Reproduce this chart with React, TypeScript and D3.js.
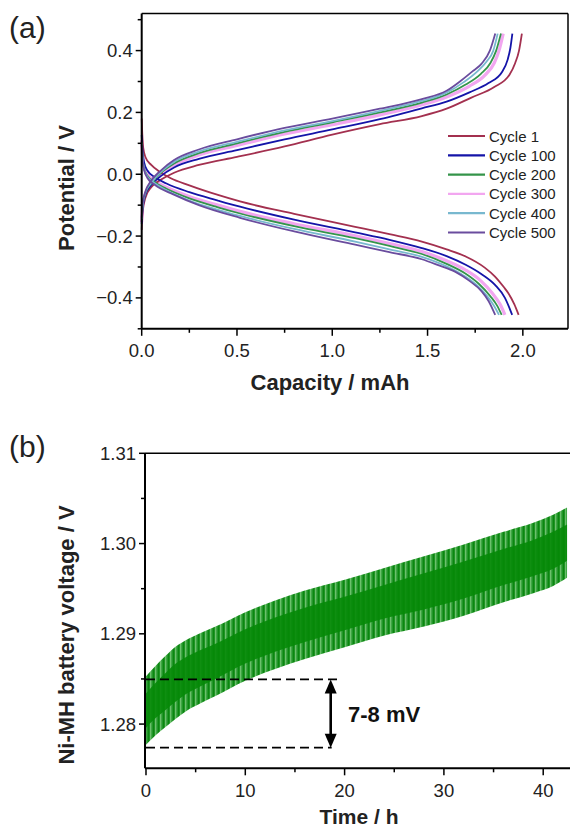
import React from "react";
import * as d3 from "d3";

const width = 570;
const height = 832;
const font = "'Liberation Sans', Arial, sans-serif";

// ---- panel (a) data: [capacity mAh, potential V]
const cycleNames = ["Cycle 1", "Cycle 100", "Cycle 200", "Cycle 300", "Cycle 400", "Cycle 500"];

const charge1 = [[0,-0.18],[0.005,-0.12],[0.02,-0.075],[0.05,-0.042],[0.1,-0.018],[0.17,0.005],[0.3,0.03],[0.5,0.056],[0.75,0.09],[1.0,0.128],[1.25,0.162],[1.47,0.188],[1.6,0.212],[1.73,0.248],[1.85,0.282],[1.93,0.322],[1.96,0.36],[1.98,0.40],[1.995,0.455]];
const charge100 = [[0,-0.16],[0.005,-0.11],[0.02,-0.065],[0.05,-0.035],[0.1,-0.006],[0.17,0.022],[0.3,0.05],[0.5,0.078],[0.75,0.113],[1.0,0.145],[1.25,0.178],[1.47,0.213],[1.6,0.235],[1.72,0.265],[1.82,0.295],[1.89,0.33],[1.92,0.37],[1.935,0.41],[1.945,0.455]];
const charge200 = [[0,-0.15],[0.005,-0.1],[0.02,-0.06],[0.05,-0.03],[0.1,0.004],[0.17,0.035],[0.3,0.068],[0.5,0.1],[0.75,0.137],[1.0,0.168],[1.25,0.2],[1.47,0.232],[1.6,0.258],[1.7,0.29],[1.78,0.325],[1.83,0.36],[1.86,0.40],[1.885,0.455]];
const charge300 = [[0,-0.155],[0.005,-0.105],[0.02,-0.062],[0.05,-0.032],[0.1,0.0],[0.17,0.03],[0.3,0.062],[0.5,0.093],[0.75,0.13],[1.0,0.16],[1.25,0.192],[1.47,0.225],[1.6,0.25],[1.72,0.285],[1.8,0.32],[1.85,0.36],[1.875,0.40],[1.897,0.455]];
const charge400 = [[0,-0.145],[0.005,-0.1],[0.02,-0.058],[0.05,-0.028],[0.1,0.007],[0.17,0.04],[0.3,0.073],[0.5,0.105],[0.75,0.142],[1.0,0.172],[1.25,0.205],[1.47,0.237],[1.6,0.264],[1.69,0.298],[1.76,0.332],[1.81,0.365],[1.845,0.40],[1.868,0.455]];
const charge500 = [[0,-0.14],[0.005,-0.095],[0.02,-0.055],[0.045,-0.025],[0.1,0.012],[0.17,0.046],[0.3,0.08],[0.5,0.113],[0.75,0.15],[1.0,0.18],[1.25,0.212],[1.47,0.243],[1.6,0.27],[1.68,0.305],[1.74,0.335],[1.784,0.358],[1.827,0.40],[1.855,0.455]];

const discharge1 = [[0,0.18],[0.003,0.13],[0.008,0.085],[0.02,0.055],[0.05,0.03],[0.09,0.01],[0.15,-0.012],[0.25,-0.036],[0.4,-0.067],[0.516,-0.088],[0.8,-0.128],[1.12,-0.17],[1.3,-0.194],[1.47,-0.218],[1.6,-0.243],[1.7,-0.266],[1.8,-0.302],[1.854,-0.331],[1.9,-0.365],[1.924,-0.385],[1.955,-0.42],[1.978,-0.455]];
const discharge100 = [[0,0.127],[0.004,0.08],[0.012,0.04],[0.03,0.012],[0.07,-0.01],[0.13,-0.03],[0.25,-0.058],[0.4,-0.085],[0.516,-0.105],[0.8,-0.147],[1.12,-0.188],[1.3,-0.212],[1.47,-0.239],[1.6,-0.265],[1.7,-0.293],[1.78,-0.322],[1.854,-0.358],[1.906,-0.40],[1.944,-0.455]];
const discharge200 = [[0,0.105],[0.004,0.06],[0.012,0.02],[0.03,-0.005],[0.07,-0.027],[0.13,-0.047],[0.25,-0.078],[0.4,-0.107],[0.516,-0.127],[0.8,-0.168],[1.12,-0.207],[1.3,-0.232],[1.47,-0.258],[1.6,-0.29],[1.7,-0.322],[1.77,-0.355],[1.83,-0.395],[1.865,-0.425],[1.889,-0.455]];
const discharge300 = [[0,0.11],[0.004,0.065],[0.012,0.025],[0.03,0.0],[0.07,-0.022],[0.13,-0.042],[0.25,-0.072],[0.4,-0.1],[0.516,-0.12],[0.8,-0.16],[1.12,-0.199],[1.3,-0.224],[1.47,-0.25],[1.6,-0.28],[1.7,-0.31],[1.78,-0.345],[1.84,-0.385],[1.88,-0.42],[1.906,-0.455]];
const discharge400 = [[0,0.1],[0.004,0.058],[0.012,0.018],[0.03,-0.008],[0.07,-0.03],[0.13,-0.052],[0.25,-0.085],[0.4,-0.115],[0.516,-0.135],[0.8,-0.177],[1.12,-0.218],[1.3,-0.243],[1.47,-0.267],[1.6,-0.298],[1.69,-0.328],[1.76,-0.36],[1.82,-0.4],[1.85,-0.427],[1.875,-0.455]];
const discharge500 = [[0,0.095],[0.004,0.055],[0.012,0.015],[0.03,-0.012],[0.07,-0.035],[0.166,-0.065],[0.3,-0.1],[0.516,-0.141],[0.8,-0.185],[1.12,-0.228],[1.3,-0.252],[1.47,-0.275],[1.56,-0.295],[1.644,-0.315],[1.72,-0.345],[1.784,-0.379],[1.82,-0.41],[1.855,-0.455]];

const capTicks = [0, 0.5, 1.0, 1.5, 2.0];
const capMinor = [0.25, 0.75, 1.25, 1.75];
const potTicks = [-0.4, -0.2, 0.0, 0.2, 0.4];
const potMinor = [-0.5, -0.3, -0.1, 0.1, 0.3, 0.5];

// ---- panel (b) data: envelope of the cycling voltage
const timeH = [0, 1, 2, 3, 4, 5.5, 7, 10, 13, 16, 20, 24, 28, 32, 36, 39, 41, 42.4];
const voltUpper = [1.2853, 1.2865, 1.2876, 1.2886, 1.2893, 1.2901, 1.2908, 1.2924, 1.2937, 1.2948, 1.296, 1.2973, 1.2986, 1.2999, 1.3013, 1.3023, 1.3032, 1.304];
const voltLower = [1.2777, 1.2788, 1.2797, 1.2806, 1.2814, 1.2823, 1.2831, 1.2848, 1.2861, 1.2872, 1.2885, 1.2898, 1.2908, 1.292, 1.2935, 1.2945, 1.2953, 1.2962];
const timeTicks = [0, 10, 20, 30, 40];
const timeMinor = [5, 15, 25, 35];
const voltTicks = [1.28, 1.29, 1.3, 1.31];
const voltMinor = [1.285, 1.295, 1.305];
const markHigh = 1.28495;
const markLow = 1.27738;

const colors = ["#a3304f", "#1414a8", "#34944a", "#f2a6f0", "#78b8cf", "#6a4c9e"];
const drawOrder = [3, 0, 1, 2, 4, 5];

const A = { left: 141.7, right: 568, top: 13.5, bottom: 328.8 };
const B = { left: 145, right: 573, top: 453.3, bottom: 768.3 };

const BottomAxis = ({ scale, y, major, minor, fmt, labelY }) => (
  <g>
    {minor.map((t) => (
      <line key={"m" + t} x1={scale(t)} x2={scale(t)} y1={y} y2={y + 4} stroke="#000" strokeWidth={1.5} />
    ))}
    {major.map((t) => (
      <g key={t}>
        <line x1={scale(t)} x2={scale(t)} y1={y} y2={y + 7} stroke="#000" strokeWidth={1.5} />
        <text x={scale(t)} y={labelY} textAnchor="middle" fontSize={18.5} fill="#222" fontFamily={font}>
          {fmt(t)}
        </text>
      </g>
    ))}
  </g>
);

const LeftAxis = ({ scale, x, major, minor, fmt }) => (
  <g>
    {minor.map((t) => (
      <line key={"m" + t} x1={x - 4} x2={x} y1={scale(t)} y2={scale(t)} stroke="#000" strokeWidth={1.5} />
    ))}
    {major.map((t) => (
      <g key={t}>
        <line x1={x - 6} x2={x} y1={scale(t)} y2={scale(t)} stroke="#000" strokeWidth={1.5} />
        <text x={x - 9} y={scale(t) + 6.5} textAnchor="end" fontSize={18.5} fill="#222" fontFamily={font}>
          {fmt(t)}
        </text>
      </g>
    ))}
  </g>
);

export default function App() {
  const xA = d3.scaleLinear().domain([0, 2.237]).range([A.left, A.right]);
  const yA = d3.scaleLinear().domain([-0.5, 0.52]).range([A.bottom, A.top]);
  const xB = d3.scaleLinear().domain([-0.1, 43]).range([B.left, B.right]);
  const yB = d3.scaleLinear().domain([1.2751, 1.31]).range([B.bottom, B.top]);

  const charges = [charge1, charge100, charge200, charge300, charge400, charge500];
  const discharges = [discharge1, discharge100, discharge200, discharge300, discharge400, discharge500];
  const line = d3.line().x((d) => xA(d[0])).y((d) => yA(d[1])).curve(d3.curveMonotoneX);

  const band = timeH.map((t, i) => ({ t, hi: voltUpper[i], lo: voltLower[i] }));
  const outer = d3.area().x((d) => xB(d.t)).y0((d) => yB(d.lo)).y1((d) => yB(d.hi)).curve(d3.curveMonotoneX);
  const inner = d3.area().x((d) => xB(d.t)).y0((d) => yB(d.lo + 0.0019)).y1((d) => yB(d.hi - 0.0019)).curve(d3.curveMonotoneX);

  const fmt1 = d3.format(".1f");
  const fmt2 = d3.format(".2f");
  const arrowX = xB(18.6);

  return (
    <svg width={width} height={height} style={{ position: "absolute", left: 0, top: 0, background: "#fff" }}>
      <defs>
        <pattern id="teeth" width={5} height={10} patternUnits="userSpaceOnUse">
          <rect width={5} height={10} fill="#23962a" />
          <rect x={0} width={1.4} height={10} fill="#6cc06c" />
          <rect x={3} width={1.2} height={10} fill="#0b870f" />
        </pattern>
        <clipPath id="clipB">
          <rect x={B.left} y={B.top} width={B.right - B.left} height={B.bottom - B.top} />
        </clipPath>
      </defs>

      {/* ---------- panel (a) ---------- */}
      <text x={9} y={38} fontSize={30} fontFamily={font} fill="#222">(a)</text>
      {drawOrder.map((i) => (
        <g key={cycleNames[i]}>
          <path d={line(charges[i])} fill="none" stroke={colors[i]} strokeWidth={i === 3 ? 3.2 : 1.8} />
          <path d={line(discharges[i])} fill="none" stroke={colors[i]} strokeWidth={i === 3 ? 3.2 : 1.8} />
        </g>
      ))}
      <line x1={A.left} x2={A.right} y1={A.top} y2={A.top} stroke="#000" strokeWidth={1.5} />
      <line x1={A.right} x2={A.right} y1={A.top} y2={A.bottom} stroke="#000" strokeWidth={1.5} />
      <line x1={A.left} x2={A.right} y1={A.bottom} y2={A.bottom} stroke="#000" strokeWidth={2} />
      <line x1={A.left} x2={A.left} y1={A.top} y2={A.bottom} stroke="#000" strokeWidth={2} />
      <BottomAxis scale={xA} y={A.bottom} major={capTicks} minor={capMinor} fmt={fmt1} labelY={357} />
      <LeftAxis scale={yA} x={A.left} major={potTicks} minor={potMinor} fmt={fmt1} />
      <text x={330} y={390} textAnchor="middle" fontSize={22} fontWeight="bold" fontFamily={font} fill="#222">
        Capacity / mAh
      </text>
      <text transform={`translate(74,188) rotate(-90)`} textAnchor="middle" fontSize={22} fontWeight="bold" fontFamily={font} fill="#222">
        Potential / V
      </text>
      {cycleNames.map((name, i) => {
        const y = 136 + i * 19.3;
        return (
          <g key={name}>
            <line x1={448} x2={485} y1={y} y2={y} stroke={colors[i]} strokeWidth={2.2} />
            <text x={489} y={y + 5.5} fontSize={15} fontFamily={font} fill="#222">{name}</text>
          </g>
        );
      })}

      {/* ---------- panel (b) ---------- */}
      <text x={9} y={457} fontSize={30} fontFamily={font} fill="#222">(b)</text>
      <g clipPath="url(#clipB)">
        <path d={outer(band)} fill="url(#teeth)" />
        <path d={inner(band)} fill="#068a08" opacity={0.9} />
      </g>
      <line x1={B.left} x2={B.right} y1={B.top} y2={B.top} stroke="#000" strokeWidth={1.5} />
      <line x1={B.left} x2={B.right} y1={B.bottom} y2={B.bottom} stroke="#000" strokeWidth={2} />
      <line x1={B.left} x2={B.left} y1={B.top} y2={B.bottom} stroke="#000" strokeWidth={2} />
      <BottomAxis scale={xB} y={B.bottom} major={timeTicks} minor={timeMinor} fmt={(t) => String(t)} labelY={797} />
      <LeftAxis scale={yB} x={B.left} major={voltTicks} minor={voltMinor} fmt={fmt2} />

      <line x1={xB(0)} x2={xB(19.5)} y1={yB(markHigh)} y2={yB(markHigh)} stroke="#000" strokeWidth={1.8} strokeDasharray="9,5" />
      <line x1={xB(0)} x2={xB(18.7)} y1={yB(markLow)} y2={yB(markLow)} stroke="#000" strokeWidth={1.8} strokeDasharray="9,5" />
      <line x1={arrowX} x2={arrowX} y1={yB(markHigh) + 10} y2={yB(markLow) - 10} stroke="#000" strokeWidth={2.6} />
      <path d={`M${arrowX},${yB(markHigh)} l-6,14 l12,0 z`} fill="#000" />
      <path d={`M${arrowX},${yB(markLow)} l-6,-14 l12,0 z`} fill="#000" />
      <text x={348} y={721.5} fontSize={22} fontWeight="bold" fontFamily={font} fill="#111">7-8 mV</text>

      <text x={359} y={824} textAnchor="middle" fontSize={21} fontWeight="bold" fontFamily={font} fill="#222">
        Time / h
      </text>
      <text transform={`translate(74,635) rotate(-90)`} textAnchor="middle" fontSize={22} fontWeight="bold" fontFamily={font} fill="#222">
        Ni-MH battery voltage / V
      </text>
    </svg>
  );
}
